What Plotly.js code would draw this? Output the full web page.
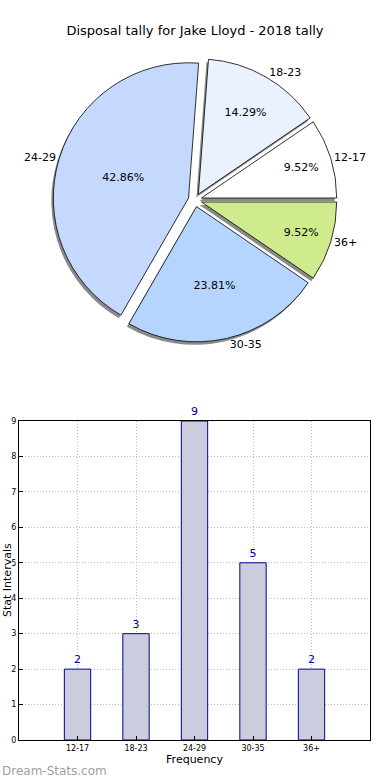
<!DOCTYPE html>
<html><head><meta charset="utf-8">
<script src="https://cdn.plot.ly/plotly-3.0.1.min.js"></script>
<style>html,body{margin:0;padding:0;background:#fff}#c{width:390px;height:780px}</style>
</head><body><div id="c"></div>
<script>
const categories = ["12-17","18-23","24-29","30-35","36+"];
const counts = [2,3,9,5,2];
const pieColors = ["#ffffff","#eaf1ff","#c5d9ff","#b5d5ff","#cfeb8d"];
const yTicks = [0,1,2,3,4,5,6,7,8,9];

const W=390,H=780;
const cx=195, cy=200, half=142;
function pdom(dx,dy){return {x:[(cx-half+dx)/W,(cx+half+dx)/W], y:[1-(cy+half+dy)/H,1-(cy-half+dy)/H]};}
const font="DejaVu Sans, sans-serif";
const pull=[0.05,0.05,0.05,0.05,0.05];
const total=counts.reduce((a,b)=>a+b,0);
const rot=90-360*counts[0]/total;
const common={type:'pie',labels:categories,values:counts,sort:false,direction:'counterclockwise',rotation:rot,pull:pull,hoverinfo:'skip',showlegend:false};

const shadow=Object.assign({},common,{domain:pdom(-2,3),marker:{colors:categories.map(()=> '#8a8a8a'),line:{width:0}},textinfo:'none'});
const main=Object.assign({},common,{domain:pdom(0,0),marker:{colors:pieColors,line:{color:'#000',width:0.8}},texttemplate:'%{percent:.2%}',textposition:'inside',insidetextorientation:'horizontal',insidetextfont:{family:font,size:11,color:'#000'}});
const outer=Object.assign({},common,{domain:pdom(0,0),marker:{colors:categories.map(()=> 'rgba(0,0,0,0)'),line:{width:0}},textinfo:'label',textposition:'outside',outsidetextfont:{family:font,size:11,color:'#000'}});

const bars={type:'bar',x:categories,y:counts,xaxis:'x',yaxis:'y',width:0.45,marker:{color:'#ccccdf',line:{color:'#00008b',width:1}},text:counts.map(String),textposition:'outside',cliponaxis:false,textfont:{family:font,size:11,color:'#00008b'},hoverinfo:'skip',showlegend:false};

const gridStyle={showgrid:true,gridcolor:'#bdbdbd',griddash:'1px,2px',gridwidth:1,showline:true,mirror:true,linecolor:'#000',linewidth:1,ticks:'inside',ticklen:4,tickcolor:'#000',tickfont:{family:font,size:8,color:'#000'},zeroline:false,fixedrange:true};
const layout={width:W,height:H,margin:{l:0,r:0,t:0,b:0},paper_bgcolor:'#fff',plot_bgcolor:'#fff',
 font:{family:font,color:'#000'},
 title:{text:'Disposal tally for Jake Lloyd - 2018 tally',x:0.5,xanchor:'center',y:1-30/H,yanchor:'middle',font:{family:font,size:13,color:'#000'}},
 xaxis:Object.assign({domain:[19/W,370/W],anchor:'y',range:[-1,5],tickvals:categories,ticktext:categories,
   title:{text:'Frequency',font:{family:font,size:11,color:'#000'},standoff:2}},gridStyle),
 yaxis:Object.assign({domain:[1-740/H,1-421/H],anchor:'x',range:[0,9],tickvals:yTicks},gridStyle),
 bargap:0,
 annotations:[
  {text:'Stat Intervals',xref:'paper',yref:'paper',x:7/W,y:1-580/H,textangle:-90,showarrow:false,font:{family:font,size:11,color:'#000'},xanchor:'center',yanchor:'middle'},
  {text:'Dream-Stats.com',xref:'paper',yref:'paper',x:0,y:1-771/H,xanchor:'left',yanchor:'middle',showarrow:false,font:{family:font,size:12,color:'#a0a0a0'}}
 ]};
Plotly.newPlot('c',[shadow,main,outer,bars],layout,{displayModeBar:false,staticPlot:true});
</script></body></html>
